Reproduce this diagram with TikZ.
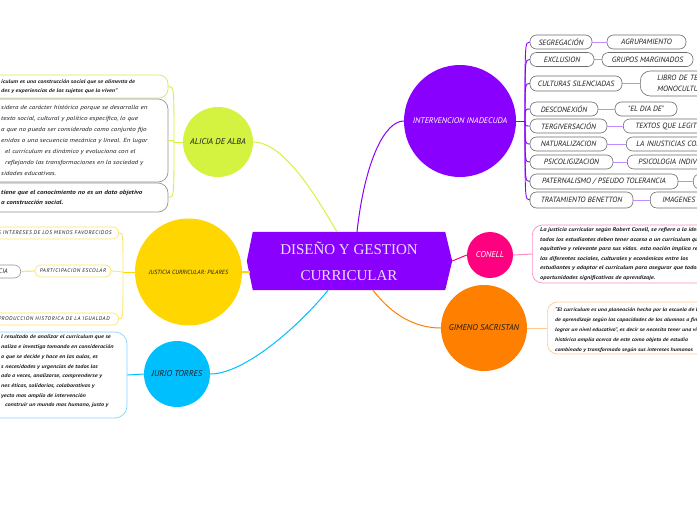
\documentclass[tikz,border=0pt]{standalone}
\usepackage{fontspec}
\setmainfont{Liberation Serif}
\newfontfamily\hand{PT Sans}
\newfontfamily\handw[FakeStretch=1.2]{PT Sans}
\newfontfamily\handsp[LetterSpace=10]{PT Sans}
\usetikzlibrary{backgrounds}
\definecolor{cpurple}{RGB}{138,0,255}
\definecolor{lpurple}{RGB}{195,140,255}
\definecolor{cpink}{RGB}{255,0,128}
\definecolor{lpink}{RGB}{255,140,200}
\definecolor{corange}{RGB}{255,128,0}
\definecolor{lorange}{RGB}{255,200,140}
\definecolor{ccyan}{RGB}{0,191,255}
\definecolor{lcyan}{RGB}{130,215,255}
\definecolor{cyellow}{RGB}{255,214,0}
\definecolor{lyellow}{RGB}{255,228,110}
\definecolor{clime}{RGB}{212,242,64}
\definecolor{llime}{RGB}{200,240,90}
\definecolor{pgray}{RGB}{110,110,110}
\definecolor{bgray}{RGB}{150,150,150}
\definecolor{ctext}{RGB}{30,30,30}
\definecolor{ccenter}{RGB}{236,222,255}
\tikzset{
  hub/.style={circle, inner sep=0pt, font=\hand\itshape\fontsize{8.5}{10}\selectfont, text=ctext},
  pill/.style={draw=pgray, line width=0.6pt, fill=white, rounded corners=6.5pt,
    minimum height=14pt, inner sep=0pt, font=\hand\itshape\fontsize{7.6}{8}\selectfont, text=ctext},
  pillcut/.style={pill, anchor=west, text width=120pt, align=left},
  lbl/.style={inner sep=0pt, anchor=west, align=left, text=ctext},
  tbox/.style={line width=0.7pt, fill=white, rounded corners=10pt, inner sep=0pt},
  jpill/.style={draw=lyellow, line width=0.7pt, fill=white, rounded corners=6pt,
    minimum height=12pt, inner ysep=0pt, font=\handsp\itshape\fontsize{5.4}{6}\selectfont, text=ctext},
  spine/.style={line width=0.9pt},
  twig/.style={line width=0.8pt, draw=lpurple},
}
\begin{document}
\begin{tikzpicture}[x=1pt,y=-1pt]
\useasboundingbox (0,0) rectangle (697,520);

% ---- central node
\node[minimum width=192pt, minimum height=58pt, inner sep=0pt, align=center,
  text=ccenter, font=\fontsize{15}{26}\selectfont] (center) at (349,261)
  {DISEÑO Y GESTION\\CURRICULAR};
\begin{scope}[on background layer]
\fill[white] (0,0) rectangle (697,520);
\fill[cpurple] (center.north west) -- (center.north east) -- ([xshift=7pt]center.east)
  -- (center.south east) -- (center.south west) -- ([xshift=-6pt]center.west) -- cycle;
\end{scope}

% ---- hubs
\node[hub, fill=cpurple, minimum size=112pt, text=white, font=\hand\itshape\fontsize{8.2}{10}\selectfont] (inter) at (460,121) {INTERVENCION INADECUDA};
\node[hub, fill=cpink, minimum size=46pt, text=white] (conell) at (490,255) {CONELL};
\node[hub, fill=corange, minimum size=86pt] (gimeno) at (484,328) {GIMENO SACRISTAN};
\node[hub, fill=clime, minimum size=70pt] (alicia) at (218,142) {ALICIA DE ALBA};
\node[hub, fill=cyellow, minimum size=107pt, font=\hand\itshape\fontsize{6}{7}\selectfont] (just) at (188.5,272) {JUSTICIA CURRICULAR: PILARES};
\node[hub, fill=ccyan, minimum size=66pt] (jurjo) at (177,374) {JURJO TORRES};

% ---- central connectors
\draw[cpurple, line width=1pt] ([xshift=8pt]center.north) .. controls (365,160) and (385,121) .. (inter.west);
\draw[clime, line width=1pt] ([xshift=-12pt]center.north) .. controls (318,200) and (285,142) .. (alicia.east);
\coordinate (cwest) at (249.5,272);
\draw[cyellow, line width=1.2pt] (just.east) -- (cwest);
\draw[ccyan, line width=1pt] ([xshift=-21pt]center.south) .. controls (300,325) and (245,374) .. (jurjo.east);
\draw[cpink, line width=1pt] ([xshift=7pt]center.east) -- (conell.west);
\draw[corange, line width=1pt] ([xshift=24pt]center.south) .. controls (392,315) and (415,328) .. (gimeno.west);

% ---- right branch items
\node[pill, minimum width=62pt] (s1) at (561,42) {SEGREGACIÓN};
\node[pill, minimum width=79pt] (t1) at (646.5,42) {AGRUPAMIENTO};
\node[pill, minimum width=64pt] (s2) at (562,59.5) {EXCLUSION};
\node[pill, minimum width=91pt] (t2) at (647.5,59.5) {GRUPOS MARGINADOS};
\node[pill, minimum width=92pt, minimum height=15pt] (s3) at (576,83.5) {CULTURAS SILENCIADAS};
\node[pill, anchor=west, minimum height=25pt, rounded corners=10pt, inner xsep=17pt, text width=100pt, align=left,
  font=\hand\itshape\fontsize{7.6}{11}\selectfont] (t3) at (640,83.5) {LIBRO DE TEXTO\\MONOCULTURAL};
\node[pill, minimum width=68pt] (s4) at (564,109) {DESCONEXIÓN};
\node[pill, minimum width=62pt] (t4) at (646,109) {"EL DIA DE"};
\node[pill, minimum width=77pt] (s5) at (568.5,126) {TERGIVERSACIÓN};
\node[pillcut, inner xsep=12pt] (t5) at (623,126) {TEXTOS QUE LEGITIMAN};
\node[pill, minimum width=77pt] (s6) at (568.5,144) {NATURALIZACION};
\node[pillcut, inner xsep=10pt] (t6) at (626,144) {LA INJUSTICIAS COMO NATURALES};
\node[pill, minimum width=83pt] (s7) at (571.5,162) {PSICOLIGIZACION};
\node[pillcut, inner xsep=11pt] (t7) at (627,162) {PSICOLOGIA INDIVIDUAL};
\node[pill, minimum width=148pt, minimum height=15pt] (s8) at (604,181.5) {PATERNALISMO / PSEUDO TOLERANCIA};
\node[pill, anchor=west, minimum width=90pt, minimum height=15pt] (t8) at (693,181.5) {};
\node[pill, minimum width=103pt, minimum height=16pt] (s9) at (581.5,200) {TRATAMIENTO BENETTON};
\node[pillcut, inner xsep=12pt, minimum height=16pt] (t9) at (650,200) {IMAGENES};

\coordinate (rj) at (525,121);
\draw[cpurple, spine] (inter.east) -- (rj);
\foreach \s in {s1,s2,s3,s4,s5,s6,s7,s8,s9}{
  \draw[cpurple, spine] (rj) .. controls (rj |- \s.west) .. (\s.west);
}
\foreach \s/\t in {s1/t1,s2/t2,s3/t3,s4/t4,s5/t5,s6/t6,s7/t7,s8/t8,s9/t9}{
  \draw[twig] (\s.east) -- (\t.west);
}

% ---- CONELL box
\node[tbox, draw=lpink, anchor=west, minimum width=200pt, minimum height=58pt] (cbox) at (532,254) {};
\draw[lpink, line width=1pt] (conell.east) -- (cbox.west);
\node[lbl, font=\handw\bfseries\itshape\fontsize{5.4}{9.5}\selectfont] (ctxt) at (540,254.3) {%
La justicia curricular según Robert Conell, se refiere a la idea de que\\
todos los estudiantes deben tener acceso a un currículum que sea\\
equitativo y relevante para sus vidas. esta noción implica reconocer\\
las diferentes sociales, culturales y económicas entre los\\
estudiantes y adaptar el currículum para asegurar que todos tengan\\
oportunidades significativas de aprendizaje.};

% ---- GIMENO box
\node[tbox, draw=lorange, anchor=west, minimum width=200pt, minimum height=52pt] (gbox) at (547,328) {};
\draw[lorange, line width=1pt] (gimeno.east) -- (gbox.west);
\node[lbl, font=\handw\bfseries\itshape\fontsize{5.0}{10}\selectfont] (gtxt) at (555,329.6) {%
“El currículum es una planeación hecha por la escuela de las experiencias\\
de aprendizaje según las capacidades de los alumnos a fin de\\
lograr un nivel educativo”, es decir se necesita tener una visión\\
histórica amplia acerca de este como objeto de estudio\\
combinado y transformado según sus intereses humanos};

% ---- ALICIA boxes
\node[tbox, draw=llime, minimum width=183pt, minimum height=23pt, rounded corners=9pt] (ab1) at (76.5,86.5) {};
\node[tbox, draw=bgray, minimum width=183pt, minimum height=83pt, rounded corners=10pt] (ab2) at (76.5,140.5) {};
\node[tbox, draw=bgray, minimum width=183pt, minimum height=29pt, rounded corners=10pt] (ab3) at (76.5,197.5) {};
\coordinate (aj) at (174,142);
\draw[clime, spine] (alicia.west) -- (aj);
\foreach \b in {ab1,ab2,ab3}{
  \draw[clime, spine] (aj) .. controls (aj |- \b.east) .. (\b.east);
}
\node[lbl, font=\handw\bfseries\itshape\fontsize{5.2}{9}\selectfont] (a1txt) at (1,87) {%
ículum es una construcción social que se alimenta de\\
des y experiencias de los sujetos que lo viven”};
\node[lbl, font=\handw\itshape\fontsize{5.9}{11}\selectfont] (a2txt) at (1,140.6) {%
sidera de carácter histórico porque se desarrolla en\\
texto social, cultural y político específico, lo que\\
a que no pueda ser considerado como conjunto fijo\\
enidos o una secuencia mecánica y lineal. En lugar\\
\hspace*{4pt}el currículum es dinámico y evoluciona con el\\
\hspace*{4pt}reflejando las transformaciones en la sociedad y\\
sidades educativas.};
\node[lbl, font=\handw\bfseries\itshape\fontsize{6}{10}\selectfont] (a3txt) at (1,197.5) {%
tiene que el conocimiento no es un dato objetivo\\
a construcción social.};

% ---- JUSTICIA boxes
\node[jpill, anchor=east, inner xsep=7pt] (jb1) at (119,233) {LOS INTERESES DE LOS MENOS FAVORECIDOS};
\node[jpill, minimum width=76pt, inner xsep=0pt] (jb2) at (73,271) {PARTICIPACION ESCOLAR};
\node[jpill, anchor=east, inner xsep=9pt] (jb3) at (119,319) {PRODUCCION HISTORICA DE LA IGUALDAD};
\node[pill, draw=bgray, anchor=east, inner xsep=13pt, minimum height=13pt, font=\hand\itshape\fontsize{6.5}{7}\selectfont] (jb0) at (21,271.5) {DEMOCRACIA};
\coordinate (jj) at (123,272);
\draw[cyellow, spine] (just.west) -- (jj);
\draw[lyellow, spine] (jj) .. controls (jj |- jb1.east) .. (jb1.east);
\draw[lyellow, spine] (jj) .. controls (jj |- jb3.east) .. (jb3.east);
\draw[lyellow, spine] (jj) -- (jb2.east);
\draw[lyellow, line width=1.2pt] (jb2.west) -- (jb0.east);

% ---- JURJO box
\node[tbox, draw=lcyan, minimum width=142pt, minimum height=86pt, rounded corners=12pt] (jbox) at (56,375) {};
\draw[ccyan, line width=1pt] (jurjo.west) -- (jbox.east);
\node[lbl, font=\handw\bfseries\itshape\fontsize{5.2}{9.7}\selectfont] (jtxt) at (1,371.6) {%
l resultado de analizar el curriculum que se\\
naliza e investiga tomando en consideración\\
o que se decide y hace en las aulas, es\\
s necesidades y urgencias de todos los\\
ado a veces, analizarse, comprenderse y\\
nes éticas, solidarias, colaborativas y\\
yecto mas amplio de intervención\\
\hspace*{4pt}construir un mundo mas humano, justo y};
\end{tikzpicture}
\end{document}
